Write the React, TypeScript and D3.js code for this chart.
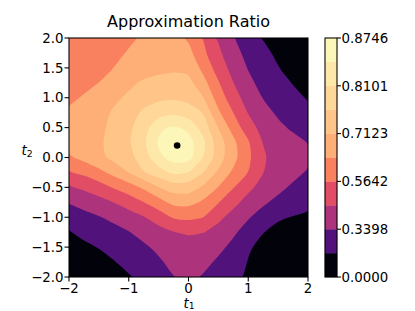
import React from 'react';
import * as d3 from 'd3';

const width = 415;
const height = 311;
const plotLeft = 69;
const plotRight = 308;
const plotTop = 38;
const plotBottom = 277;
const cbLeft = 325;
const cbRight = 337;
const font = 'DejaVu Sans, sans-serif';

// sample positions of the grid
const t1Grid = [-2, -1.75, -1.5, -1.25, -1, -0.75, -0.5, -0.25, 0, 0.25, 0.5, 0.75, 1, 1.25, 1.5, 1.75, 2];
const t2Grid = [2, 1.75, 1.5, 1.25, 1, 0.75, 0.5, 0.25, 0, -0.25, -0.5, -0.75, -1, -1.25, -1.5, -1.75, -2];

// approximation ratio, rows go from t2 = 2 (top) down to t2 = -2
const ratio = [
  [0.610, 0.617, 0.625, 0.633, 0.641, 0.650, 0.658, 0.660, 0.640, 0.562, 0.455, 0.347, 0.262, 0.180, 0.120, 0.070, 0.040],
  [0.617, 0.624, 0.632, 0.640, 0.648, 0.660, 0.672, 0.677, 0.668, 0.583, 0.484, 0.386, 0.300, 0.224, 0.159, 0.105, 0.050],
  [0.625, 0.632, 0.639, 0.646, 0.660, 0.686, 0.698, 0.703, 0.702, 0.625, 0.524, 0.425, 0.332, 0.262, 0.193, 0.130, 0.080],
  [0.633, 0.640, 0.646, 0.672, 0.700, 0.722, 0.730, 0.735, 0.728, 0.671, 0.572, 0.464, 0.370, 0.299, 0.239, 0.180, 0.125],
  [0.641, 0.648, 0.660, 0.700, 0.723, 0.742, 0.757, 0.762, 0.750, 0.715, 0.613, 0.512, 0.415, 0.334, 0.281, 0.228, 0.175],
  [0.650, 0.660, 0.686, 0.722, 0.742, 0.778, 0.797, 0.805, 0.795, 0.766, 0.658, 0.564, 0.457, 0.382, 0.320, 0.276, 0.232],
  [0.658, 0.672, 0.698, 0.730, 0.757, 0.797, 0.840, 0.852, 0.838, 0.795, 0.712, 0.616, 0.511, 0.427, 0.366, 0.320, 0.285],
  [0.660, 0.677, 0.703, 0.735, 0.762, 0.805, 0.852, 0.872, 0.862, 0.820, 0.746, 0.667, 0.579, 0.461, 0.420, 0.378, 0.338],
  [0.640, 0.668, 0.702, 0.728, 0.750, 0.795, 0.838, 0.862, 0.860, 0.812, 0.744, 0.672, 0.587, 0.473, 0.435, 0.403, 0.372],
  [0.562, 0.583, 0.625, 0.671, 0.715, 0.766, 0.795, 0.820, 0.812, 0.768, 0.704, 0.633, 0.567, 0.467, 0.420, 0.374, 0.328],
  [0.455, 0.484, 0.524, 0.572, 0.613, 0.658, 0.712, 0.746, 0.744, 0.704, 0.644, 0.569, 0.489, 0.426, 0.371, 0.319, 0.272],
  [0.347, 0.386, 0.425, 0.464, 0.512, 0.564, 0.616, 0.667, 0.672, 0.633, 0.569, 0.495, 0.423, 0.360, 0.308, 0.261, 0.215],
  [0.262, 0.300, 0.332, 0.370, 0.415, 0.457, 0.511, 0.579, 0.587, 0.567, 0.489, 0.423, 0.351, 0.280, 0.200, 0.182, 0.172],
  [0.180, 0.224, 0.262, 0.299, 0.334, 0.382, 0.427, 0.461, 0.473, 0.467, 0.426, 0.360, 0.280, 0.190, 0.155, 0.132, 0.125],
  [0.120, 0.159, 0.193, 0.239, 0.281, 0.320, 0.366, 0.420, 0.435, 0.420, 0.371, 0.308, 0.200, 0.155, 0.117, 0.091, 0.085],
  [0.070, 0.105, 0.130, 0.180, 0.228, 0.276, 0.320, 0.378, 0.403, 0.374, 0.319, 0.261, 0.182, 0.132, 0.091, 0.061, 0.048],
  [0.040, 0.050, 0.080, 0.125, 0.175, 0.232, 0.285, 0.338, 0.372, 0.328, 0.272, 0.215, 0.172, 0.125, 0.085, 0.048, 0.030],
];

const levels = [0, 0.1876, 0.3398, 0.4635, 0.5642, 0.6459, 0.7123, 0.7663, 0.8101, 0.8457, 0.8746];
const colorbarTicks = [0, 0.3398, 0.5642, 0.7123, 0.8101, 0.8746];
// where each band sits on the magma ramp
const bandShade = [0.02, 0.25, 0.48, 0.61, 0.735, 0.83, 0.875, 0.915, 0.95, 0.985];

const xTicks = [-2, -1, 0, 1, 2];
const yTicks = [-2, -1.5, -1, -0.5, 0, 0.5, 1, 1.5, 2];
const optimum = [{ t1: -0.19, t2: 0.2 }];

const x = d3.scaleLinear().domain([-2, 2]).range([plotLeft, plotRight]);
const y = d3.scaleLinear().domain([-2, 2]).range([plotBottom, plotTop]);
const cb = d3.scaleLinear().domain([0, levels.length - 1]).range([plotBottom, plotTop]);

const nx = t1Grid.length;
const ny = t2Grid.length;
// d3.contours puts sample k at k + 0.5
const gx = d3.scaleLinear().domain([0.5, nx - 0.5]).range([x(t1Grid[0]), x(t1Grid[nx - 1])]);
const gy = d3.scaleLinear().domain([0.5, ny - 0.5]).range([y(t2Grid[0]), y(t2Grid[ny - 1])]);

const bands = d3.contours().size([nx, ny]).thresholds(levels.slice(0, -1))(ratio.flat());

// even spacing along a ring so the basis curve smooths it evenly
function resample(ring: number[][], step: number) {
  const out: number[][] = [];
  let carry = 0;
  for (let k = 0; k < ring.length - 1; k++) {
    const [x0, y0] = ring[k];
    const [x1, y1] = ring[k + 1];
    const len = Math.hypot(x1 - x0, y1 - y0);
    let s = carry;
    while (s < len) {
      out.push([x0 + ((x1 - x0) * s) / len, y0 + ((y1 - y0) * s) / len]);
      s += step;
    }
    carry = s - len;
  }
  return out.length > 2 ? out : ring.slice(0, -1);
}

const ringLine = d3.line<number[]>()
  .x(p => gx(p[0]))
  .y(p => gy(p[1]))
  .curve(d3.curveBasisClosed);

const bandPath = (mp: any) =>
  mp.coordinates
    .map((poly: number[][][]) => poly.map(r => ringLine(resample(r, 0.4))).join(''))
    .join('');

const fmtY = d3.format('.1f');
const fmtX = d3.format('d');
const fmtCb = d3.format('.4f');
const tickSize = 13.33;

export default function App() {
  return (
    <svg
      width={width}
      height={height}
      style={{ position: 'absolute', left: 0, top: 0, background: '#fff' }}
      fontFamily={font}
    >
      <defs>
        <clipPath id="plotClip">
          <rect x={plotLeft} y={plotTop} width={plotRight - plotLeft} height={plotBottom - plotTop} />
        </clipPath>
      </defs>

      <g clipPath="url(#plotClip)">
        {bands.map((b, i) => (
          <path key={i} d={bandPath(b)} fill={d3.interpolateMagma(bandShade[i])} fillRule="evenodd" />
        ))}
        {optimum.map((p, i) => (
          <circle key={i} cx={x(p.t1)} cy={y(p.t2)} r={3.3} fill="#000" />
        ))}
      </g>

      <rect
        x={plotLeft}
        y={plotTop}
        width={plotRight - plotLeft}
        height={plotBottom - plotTop}
        fill="none"
        stroke="#000"
        strokeWidth={1.07}
      />

      {xTicks.map(t => (
        <g key={t}>
          <line x1={x(t)} x2={x(t)} y1={plotBottom} y2={plotBottom + 4.5} stroke="#000" strokeWidth={1.07} />
          <text x={x(t)} y={plotBottom + 16} textAnchor="middle" fontSize={tickSize}>{fmtX(t)}</text>
        </g>
      ))}

      {yTicks.map(t => (
        <g key={t}>
          <line x1={plotLeft - 4.5} x2={plotLeft} y1={y(t)} y2={y(t)} stroke="#000" strokeWidth={1.07} />
          <text x={63.5} y={y(t) + 4.7} textAnchor="end" fontSize={tickSize}>{fmtY(t)}</text>
        </g>
      ))}

      <text x={(plotLeft + plotRight) / 2} y={27} textAnchor="middle" fontSize={16}>Approximation Ratio</text>

      <text x={(plotLeft + plotRight) / 2 + 0.5} y={307.5} textAnchor="middle" fontSize={tickSize}>
        <tspan fontStyle="italic">t</tspan>
        <tspan fontSize={9.3} dy={1.8}>1</tspan>
      </text>
      <text x={21.5} y={155} fontSize={tickSize}>
        <tspan fontStyle="italic">t</tspan>
        <tspan fontSize={9.3} dy={2.3}>2</tspan>
      </text>

      {bandShade.map((s, i) => (
        <rect
          key={i}
          x={cbLeft}
          y={cb(i + 1)}
          width={cbRight - cbLeft}
          height={cb(i) - cb(i + 1)}
          fill={d3.interpolateMagma(s)}
          stroke={d3.interpolateMagma(s)}
          strokeWidth={0.3}
        />
      ))}
      <rect
        x={cbLeft}
        y={plotTop}
        width={cbRight - cbLeft}
        height={plotBottom - plotTop}
        fill="none"
        stroke="#000"
        strokeWidth={1.07}
      />
      {colorbarTicks.map(v => {
        const ty = cb(levels.indexOf(v));
        return (
          <g key={v}>
            <line x1={cbRight} x2={cbRight + 4} y1={ty} y2={ty} stroke="#000" strokeWidth={1.07} />
            <text x={cbRight + 4.5} y={ty + 4.7} fontSize={tickSize}>{fmtCb(v)}</text>
          </g>
        );
      })}
    </svg>
  );
}
